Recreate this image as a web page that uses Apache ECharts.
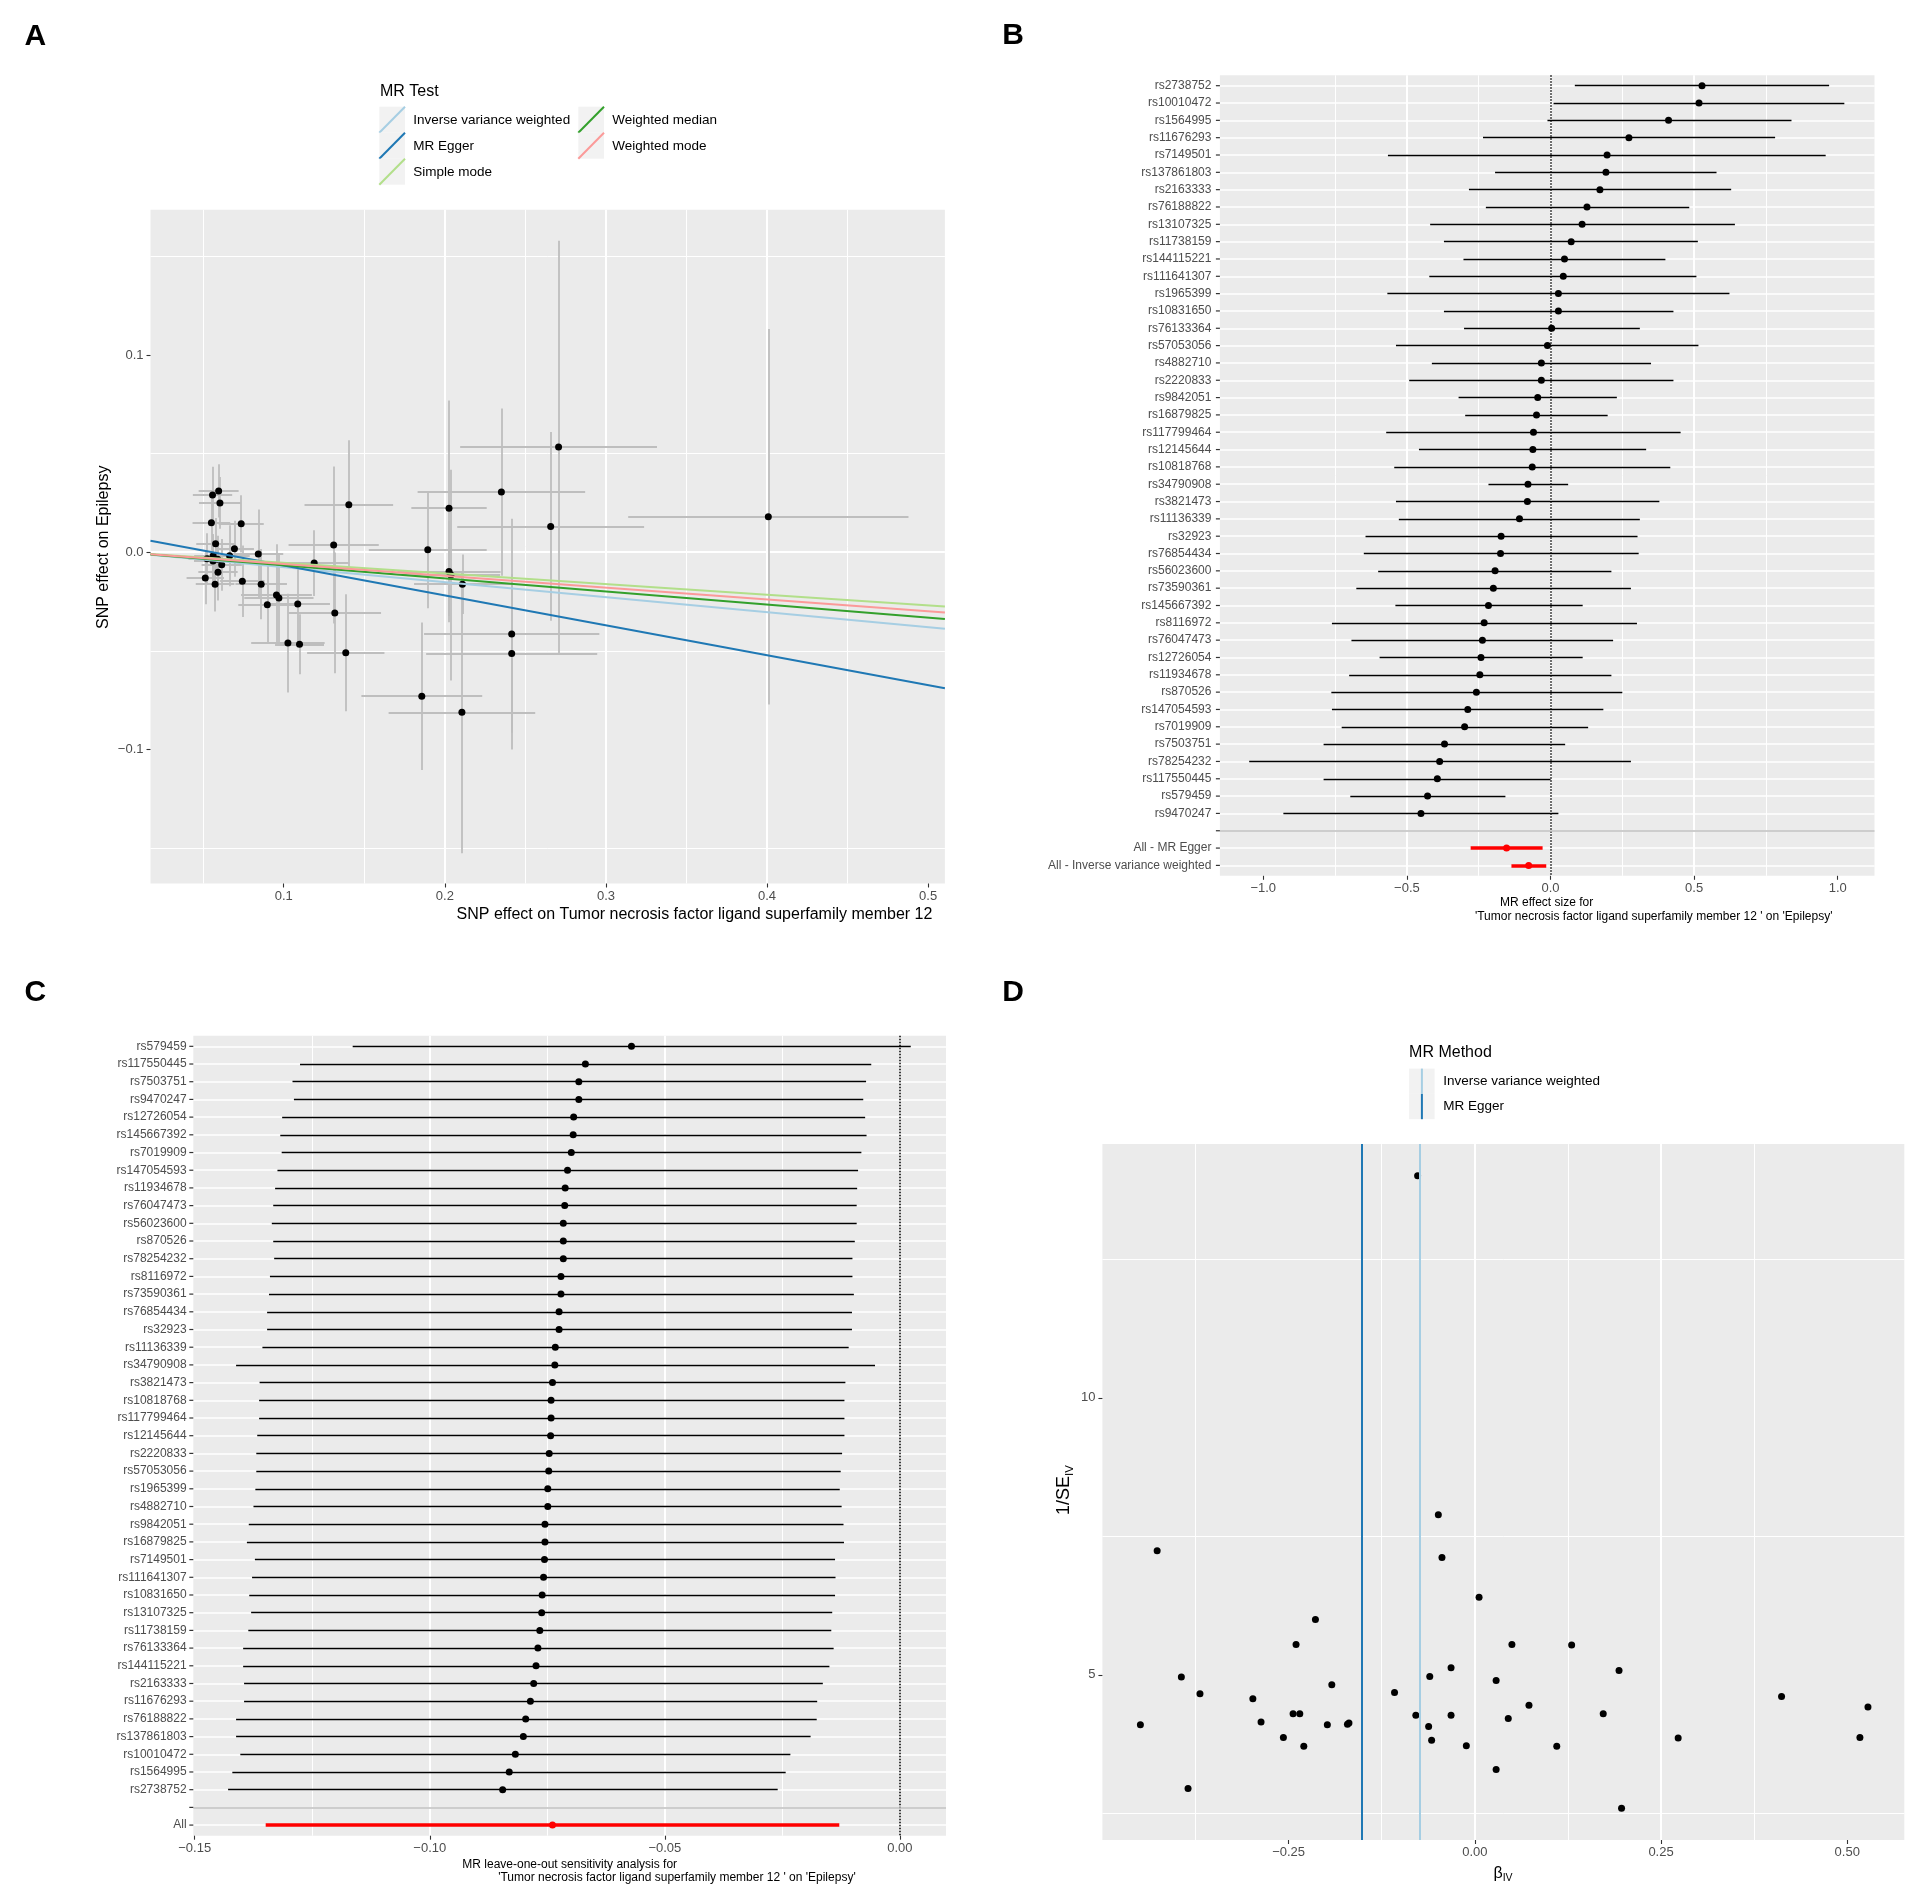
<!DOCTYPE html>
<html>
<head>
<meta charset="utf-8">
<title>MR analysis: TNFSF12 on Epilepsy</title>
<script src="https://cdn.jsdelivr.net/npm/echarts@6/dist/echarts.min.js"></script>
<style>
html,body{margin:0;padding:0;background:#ffffff;}
#chart{width:1908px;height:1888px;}
</style>
</head>
<body>
<div id="chart"></div>
<script>
// ================= DATA =================
// SNP order as in the single-SNP forest plot (B), top to bottom
const snpsB = ['rs2738752','rs10010472','rs1564995','rs11676293','rs7149501','rs137861803','rs2163333','rs76188822','rs13107325','rs11738159','rs144115221','rs111641307','rs1965399','rs10831650','rs76133364','rs57053056','rs4882710','rs2220833','rs9842051','rs16879825','rs117799464','rs12145644','rs10818768','rs34790908','rs3821473','rs11136339','rs32923','rs76854434','rs56023600','rs73590361','rs145667392','rs8116972','rs76047473','rs12726054','rs11934678','rs870526','rs147054593','rs7019909','rs7503751','rs78254232','rs117550445','rs579459','rs9470247'];

// Panel A: SNP effects on exposure (x) and outcome (y), with standard errors (same SNP order as snpsB)
const bxA  = [0.0596,0.0558,0.0604,0.0551,0.2706,0.0736,0.1404,0.2351,0.2026,0.0577,0.2657,0.4008,0.1310,0.0694,0.1894,0.0842,0.0562,0.0664,0.1189,0.2026,0.2038,0.0590,0.0524,0.2109,0.0561,0.0615,0.0592,0.2415,0.0860,0.0743,0.2415,0.0955,0.0970,0.1087,0.1317,0.0513,0.0574,0.0898,0.1385,0.2106,0.1857,0.1098,0.1026];
const byA  = [0.0311,0.0290,0.0250,0.0150,0.0534,0.0144,0.0241,0.0305,0.0223,0.0043,0.0131,0.0180,0.0037,0.0018,0.0012,-0.0009,-0.0018,-0.0018,-0.0055,-0.0098,-0.0116,-0.0036,-0.0033,-0.0162,-0.0045,-0.0064,-0.0101,-0.0415,-0.0162,-0.0147,-0.0513,-0.0217,-0.0232,-0.0263,-0.0308,-0.0131,-0.0162,-0.0266,-0.0510,-0.0812,-0.0730,-0.0467,-0.0461];
const sexA = [0.0124,0.0122,0.0130,0.0117,0.0611,0.0140,0.0275,0.0520,0.0234,0.0120,0.0580,0.0870,0.0280,0.0121,0.0366,0.0155,0.0118,0.0125,0.0220,0.0320,0.0305,0.0120,0.0115,0.0300,0.0118,0.0125,0.0122,0.0544,0.0160,0.0138,0.0531,0.0220,0.0215,0.0200,0.0287,0.0116,0.0120,0.0180,0.0240,0.0455,0.0375,0.0152,0.0228];
const seyA = [0.0135,0.0144,0.0131,0.0143,0.1045,0.0145,0.0327,0.0424,0.0546,0.0130,0.0479,0.0952,0.0398,0.0142,0.0296,0.0226,0.0110,0.0155,0.0167,0.0257,0.0534,0.0119,0.0129,0.0151,0.0131,0.0131,0.0144,0.0585,0.0178,0.0181,0.0403,0.0257,0.0226,0.0196,0.0306,0.0133,0.0138,0.0197,0.0297,0.0714,0.0374,0.0152,0.0250];
// MR method regression lines (slope, intercept)
const methodsA   = ['Inverse variance weighted','MR Egger','Simple mode','Weighted median','Weighted mode'];
const slopeA     = [-0.0760,-0.1517,-0.0539,-0.0664,-0.0598];
const interceptA = [0,0.0084,0,0,0];
const rangeAx = [0.0173, 0.5104];
const rangeAy = [-0.1680, 0.1737];
const ticksAx = [0.1,0.2,0.3,0.4,0.5],  labelsAx = ['0.1','0.2','0.3','0.4','0.5'];
const ticksAy = [-0.1,0,0.1],           labelsAy = ['\u22120.1','0.0','0.1'];

// Panel B: single-SNP Wald ratios with 95% CI
const estB = [0.5275,0.517,0.411,0.273,0.197,0.193,0.172,0.127,0.110,0.072,0.0487,0.0445,0.0275,0.0275,0.004,-0.0106,-0.0318,-0.0318,-0.0445,-0.0487,-0.0593,-0.0614,-0.0636,-0.0784,-0.0805,-0.108,-0.172,-0.174,-0.193,-0.199,-0.216,-0.231,-0.237,-0.242,-0.246,-0.258,-0.288,-0.299,-0.369,-0.386,-0.394,-0.428,-0.451];
const loB  = [0.0847,0.0106,-0.0106,-0.235,-0.566,-0.193,-0.284,-0.225,-0.419,-0.371,-0.303,-0.422,-0.568,-0.371,-0.301,-0.538,-0.413,-0.492,-0.320,-0.297,-0.572,-0.458,-0.544,-0.216,-0.538,-0.528,-0.644,-0.650,-0.600,-0.676,-0.540,-0.761,-0.693,-0.595,-0.701,-0.763,-0.761,-0.727,-0.790,-1.049,-0.790,-0.697,-0.930];
const hiB  = [0.970,1.023,0.839,0.782,0.958,0.578,0.629,0.483,0.642,0.513,0.400,0.508,0.623,0.428,0.311,0.515,0.350,0.428,0.231,0.199,0.453,0.333,0.417,0.0614,0.379,0.311,0.303,0.307,0.212,0.280,0.112,0.301,0.218,0.112,0.212,0.250,0.184,0.131,0.051,0.280,0.0,-0.157,0.0275];
const sumB    = ['All - MR Egger','All - Inverse variance weighted'];
const sumEstB = [-0.153,-0.076];
const sumLoB  = [-0.278,-0.136];
const sumHiB  = [-0.0275,-0.0148];
const rangeBx = [-1.151, 1.128];
const ticksBx = [-1,-0.5,0,0.5,1], labelsBx = ['\u22121.0','\u22120.5','0.0','0.5','1.0'];

// Panel C: leave-one-out IVW estimates with 95% CI (top to bottom)
const snpsC = ['rs579459','rs117550445','rs7503751','rs9470247','rs12726054','rs145667392','rs7019909','rs147054593','rs11934678','rs76047473','rs56023600','rs870526','rs78254232','rs8116972','rs73590361','rs76854434','rs32923','rs11136339','rs34790908','rs3821473','rs10818768','rs117799464','rs12145644','rs2220833','rs57053056','rs1965399','rs4882710','rs9842051','rs16879825','rs7149501','rs111641307','rs10831650','rs13107325','rs11738159','rs76133364','rs144115221','rs2163333','rs11676293','rs76188822','rs137861803','rs10010472','rs1564995','rs2738752'];
const estC = [-0.0571,-0.0669,-0.0683,-0.0683,-0.0694,-0.0695,-0.0699,-0.0707,-0.0712,-0.0713,-0.0716,-0.0716,-0.0716,-0.0721,-0.0721,-0.0725,-0.0725,-0.0733,-0.0734,-0.0739,-0.0742,-0.0742,-0.0743,-0.0746,-0.0747,-0.0749,-0.0749,-0.0755,-0.0755,-0.0756,-0.0758,-0.0761,-0.0762,-0.0766,-0.0770,-0.0774,-0.0779,-0.0786,-0.0796,-0.0801,-0.0818,-0.0831,-0.0845];
const loC  = [-0.1164,-0.1276,-0.1292,-0.1289,-0.1314,-0.1318,-0.1315,-0.1324,-0.1329,-0.1333,-0.1336,-0.1333,-0.1331,-0.1340,-0.1342,-0.1346,-0.1346,-0.1356,-0.1412,-0.1362,-0.1363,-0.1363,-0.1367,-0.1369,-0.1369,-0.1371,-0.1375,-0.1385,-0.1389,-0.1372,-0.1378,-0.1384,-0.1380,-0.1386,-0.1397,-0.1397,-0.1395,-0.1395,-0.1412,-0.1412,-0.1403,-0.1420,-0.1429];
const hiC  = [0.0023,-0.0061,-0.0072,-0.0078,-0.0074,-0.0071,-0.0082,-0.0089,-0.0091,-0.0092,-0.0092,-0.0096,-0.0101,-0.0101,-0.0098,-0.0102,-0.0102,-0.0109,-0.0053,-0.0116,-0.0118,-0.0118,-0.0118,-0.0123,-0.0126,-0.0128,-0.0124,-0.0120,-0.0119,-0.0138,-0.0137,-0.0138,-0.0144,-0.0146,-0.0141,-0.0150,-0.0164,-0.0176,-0.0177,-0.0190,-0.0233,-0.0243,-0.0260];
const allC = ['All'];
const allEstC = [-0.0739], allLoC = [-0.1349], allHiC = [-0.0129];
const rangeCx = [-0.1503, 0.0098];
const ticksCx = [-0.15,-0.10,-0.05,0], labelsCx = ['\u22120.15','\u22120.10','\u22120.05','0.00'];

// Panel D: funnel plot (beta_IV, 1/SE_IV), same SNP order as snpsB
const betaD  = [0.5278,0.517,0.4118,0.273,0.197,0.1936,0.1724,0.130,0.110,0.0727,0.0498,0.0449,0.0286,0.0286,0.0057,-0.0114,-0.0319,-0.0319,-0.0441,-0.049,-0.058,-0.0605,-0.062,-0.0768,-0.0792,-0.1078,-0.171,-0.169,-0.192,-0.198,-0.214,-0.2296,-0.235,-0.240,-0.244,-0.257,-0.287,-0.298,-0.369,-0.385,-0.394,-0.4265,-0.449];
const invseD = [4.42,3.87,4.61,3.86,2.59,5.08,4.30,5.54,3.71,4.45,5.55,4.21,3.29,4.90,6.40,3.72,5.13,4.27,7.12,7.89,3.82,4.97,4.07,14.01,4.27,4.68,4.11,4.13,4.82,4.10,6.0,3.71,4.30,5.55,4.30,3.87,4.15,4.57,4.66,2.95,4.96,7.24,4.10];
const methodsD = ['Inverse variance weighted','MR Egger'];
const methodBetaD = [-0.0744,-0.152];
const rangeDx = [-0.5, 0.5766];
const rangeDy = [2.019, 14.581];
const ticksDx = [-0.25,0,0.25,0.5], labelsDx = ['\u22120.25','0.00','0.25','0.50'];
const ticksDy = [5,10], labelsDy = ['5','10'];

// ================= STYLE =================
const FONT = '"Liberation Sans", Arial, Helvetica, sans-serif';
const COL = {bg:'#EBEBEB', line:'#FFFFFF', tick:'#333333', label:'#4D4D4D', err:'#BEBEBE', pt:'#000000', sum:'#FF0000', sep:'#BEBEBE', key:'#F2F2F2'};
const METHOD_COLOR = {'Inverse variance weighted':'#A6CEE3','MR Egger':'#1F78B4','Simple mode':'#B2DF8A','Weighted median':'#33A02C','Weighted mode':'#FB9A99'};

function lab(ticks, labels) {
  return function (v) {
    for (let i = 0; i < ticks.length; i++) if (Math.abs(v - ticks[i]) < 1e-7) return labels[i];
    return '';
  };
}
function valAxis(gi, range, ticks, labels, extra) {
  return Object.assign({
    type: 'value', gridIndex: gi, min: range[0], max: range[1], scale: true,
    axisLine: {show: false, onZero: false},
    axisTick: {show: true, length: 4, customValues: ticks, lineStyle: {color: COL.tick, width: 1.1}},
    axisLabel: {formatter: lab(ticks, labels), customValues: ticks, color: COL.label, fontSize: 13, fontFamily: FONT, margin: 6},
    splitLine: {show: true, showMinLine: false, showMaxLine: false, lineStyle: {color: COL.line, width: 2}},
    minorTick: {show: false, splitNumber: 2},
    minorSplitLine: {show: true, lineStyle: {color: COL.line, width: 1}}
  }, extra || {});
}
// row axis for forest plots: rows are indices 0..n-1 (top to bottom), 0.6-row padding like ggplot
function rowAxis(gi, nRows) {
  return {
    type: 'value', gridIndex: gi, min: -0.6, max: nRows - 0.4, inverse: true, scale: true,
    axisLine: {show: false, onZero: false}, axisTick: {show: false}, axisLabel: {show: false},
    splitLine: {show: false}, minorSplitLine: {show: false}
  };
}
function linesSeries(gi, data, style, z) {
  return {type: 'lines', coordinateSystem: 'cartesian2d', xAxisIndex: gi, yAxisIndex: gi, polyline: false,
    silent: true, z: z, effect: {show: false}, symbol: ['none', 'none'],
    lineStyle: Object.assign({opacity: 1, curveness: 0}, style), data: data};
}
function points(gi, data, color, z) {
  return {type: 'scatter', xAxisIndex: gi, yAxisIndex: gi, z: z, silent: true, symbolSize: 7,
    itemStyle: {color: color, opacity: 1}, data: data};
}
function rowLabels(gi, cats, xmin, dist) {
  return {type: 'scatter', xAxisIndex: gi, yAxisIndex: gi, z: 6, silent: true, clip: false,
    symbol: 'rect', symbolSize: [4, 1.2], symbolOffset: [-2, 0], itemStyle: {color: COL.tick, opacity: 1},
    label: {show: true, position: 'left', distance: dist, formatter: '{b}', color: COL.label, fontSize: 12, fontFamily: FONT},
    data: cats.map((c, i) => ({name: c, value: [xmin, i]}))};
}
function txt(text, x, y, size, o) {
  return Object.assign({type: 'text', x: x, y: y, silent: true,
    style: Object.assign({text: text, fill: '#000000', fontSize: size, fontFamily: FONT,
      textAlign: 'left', align: 'left', textVerticalAlign: 'middle', verticalAlign: 'middle'}, (o && o.style) || {})},
    (o && o.el) || {});
}
function rect(x, y, w, h, fill) {
  return {type: 'rect', z: -10, silent: true, shape: {x: x, y: y, width: w, height: h}, style: {fill: fill}};
}

// ================= BUILD =================
const catsB = snpsB.concat([''], sumB);
const catsC = snpsC.concat([''], allC);
const nB = snpsB.length, nC = snpsC.length;
const rowsBy = [-0.6, catsB.length - 0.4];
const rowsCy = [-0.6, catsC.length - 0.4];

const series = [];
// ---- A ----
const errA = [];
bxA.forEach(function (x, i) {
  errA.push({coords: [[x - sexA[i], byA[i]], [x + sexA[i], byA[i]]]});
  errA.push({coords: [[x, byA[i] - seyA[i]], [x, byA[i] + seyA[i]]]});
});
series.push(linesSeries(0, errA, {color: COL.err, width: 1.8}, 2));
series.push(points(0, bxA.map((x, i) => [x, byA[i]]), COL.pt, 3));
series.push(linesSeries(0, methodsA.map(function (m, k) {
  return {coords: [[rangeAx[0], interceptA[k] + slopeA[k] * rangeAx[0]], [rangeAx[1], interceptA[k] + slopeA[k] * rangeAx[1]]],
    lineStyle: {color: METHOD_COLOR[m], width: 2}};
}), {color: '#000', width: 2}, 4));

// ---- B ----
series.push(linesSeries(1, catsB.map((c, i) => ({coords: [[rangeBx[0], i], [rangeBx[1], i]]})), {color: COL.line, width: 1.6}, 1));
series.push(linesSeries(1, [{coords: [[0, rowsBy[0]], [0, rowsBy[1]]]}], {color: '#000000', width: 1.5, type: 'dotted'}, 2));
series.push(linesSeries(1, snpsB.map((s, i) => ({coords: [[loB[i], i], [hiB[i], i]]})), {color: COL.pt, width: 1.3}, 3));
series.push(linesSeries(1, sumB.map((s, j) => ({coords: [[sumLoB[j], nB + 1 + j], [sumHiB[j], nB + 1 + j]]})), {color: COL.sum, width: 3.5}, 3));
series.push(points(1, estB.map((v, i) => [v, i]), COL.pt, 4));
series.push(points(1, sumEstB.map((v, j) => [v, nB + 1 + j]), COL.sum, 4));
series.push(linesSeries(1, [{coords: [[rangeBx[0], nB], [rangeBx[1], nB]]}], {color: COL.sep, width: 1.6}, 5));
series.push(rowLabels(1, catsB, rangeBx[0], 4.5));

// ---- C ----
series.push(linesSeries(2, catsC.map((c, i) => ({coords: [[rangeCx[0], i], [rangeCx[1], i]]})), {color: COL.line, width: 1.6}, 1));
series.push(linesSeries(2, [{coords: [[0, rowsCy[0]], [0, rowsCy[1]]]}], {color: '#000000', width: 1.5, type: 'dotted'}, 2));
series.push(linesSeries(2, snpsC.map((s, i) => ({coords: [[loC[i], i], [hiC[i], i]]})), {color: COL.pt, width: 1.3}, 3));
series.push(linesSeries(2, allC.map((s, j) => ({coords: [[allLoC[j], nC + 1 + j], [allHiC[j], nC + 1 + j]]})), {color: COL.sum, width: 3.5}, 3));
series.push(points(2, estC.map((v, i) => [v, i]), COL.pt, 4));
series.push(points(2, allEstC.map((v, j) => [v, nC + 1 + j]), COL.sum, 4));
series.push(linesSeries(2, [{coords: [[rangeCx[0], nC], [rangeCx[1], nC]]}], {color: COL.sep, width: 1.6}, 5));
series.push(rowLabels(2, catsC, rangeCx[0], 2.7));

// ---- D ----
series.push(points(3, betaD.map((b, i) => [b, invseD[i]]), COL.pt, 3));
series.push(linesSeries(3, methodsD.map(function (m, k) {
  return {coords: [[methodBetaD[k], rangeDy[0]], [methodBetaD[k], rangeDy[1]]], lineStyle: {color: METHOD_COLOR[m], width: 2}};
}), {color: '#000', width: 2}, 4));

// ---- graphics: panel backgrounds, letters, titles, legends ----
const g = [];
g.push(rect(150.5, 209.7, 794.4, 673.8, COL.bg));
g.push(rect(1219.9, 75.3, 654.6, 800.5, COL.bg));
g.push(rect(193.3, 1035.7, 752.7, 800.0, COL.bg));
g.push(rect(1102.4, 1144.1, 801.9, 695.9, COL.bg));
['A', 'B', 'C', 'D'].forEach(function (L, i) {
  const pos = [[35.3, 36.5], [1013, 35.3], [35.3, 992.6], [1013, 992.6]][i];
  g.push(txt(L, pos[0], pos[1], 30, {style: {fontWeight: 'bold', textAlign: 'center', align: 'center'}}));
});
// A titles
g.push(txt('SNP effect on Tumor necrosis factor ligand superfamily member 12', 694.5, 914.5, 16, {style: {textAlign: 'center', align: 'center'}}));
g.push(txt('SNP effect on Epilepsy', 103.4, 547.3, 16, {style: {textAlign: 'center', align: 'center'}, el: {rotation: Math.PI / 2}}));
// B titles
g.push(txt('MR effect size for', 1546.6, 903, 12, {style: {textAlign: 'center', align: 'center'}}));
g.push(txt("'Tumor necrosis factor ligand superfamily member 12 ' on 'Epilepsy'", 1653.7, 916.9, 12, {style: {textAlign: 'center', align: 'center'}}));
// C titles
g.push(txt('MR leave-one-out sensitivity analysis for', 569.7, 1865, 12, {style: {textAlign: 'center', align: 'center'}}));
g.push(txt("'Tumor necrosis factor ligand superfamily member 12 ' on 'Epilepsy'", 676.9, 1877.7, 12, {style: {textAlign: 'center', align: 'center'}}));
// D titles with subscripts
const richSub = function (big, small) {
  return {a: {fontSize: big, fontFamily: FONT, fill: '#000000', lineHeight: big + 4, verticalAlign: 'middle'},
          b: {fontSize: small, fontFamily: FONT, fill: '#000000', lineHeight: small + 0.5, verticalAlign: 'bottom'}};
};
g.push({type: 'text', x: 1503, y: 1873.3, silent: true,
  style: {text: '{a|\u03B2}{b|IV}', rich: richSub(16, 10.5), textAlign: 'center', align: 'center', textVerticalAlign: 'middle', verticalAlign: 'middle'}});
g.push({type: 'text', x: 1064.5, y: 1490, rotation: Math.PI / 2, silent: true,
  style: {text: '{a|1/SE}{b|IV}', rich: richSub(18, 11.5), textAlign: 'center', align: 'center', textVerticalAlign: 'middle', verticalAlign: 'middle'}});
// A legend
g.push(txt('MR Test', 380, 91.7, 16));
methodsA.forEach(function (m, k) {
  const col = k < 3 ? 0 : 1, row = k < 3 ? k : k - 3;
  const kx = col === 0 ? 379.3 : 578.3, ky = 106.7 + row * 26;
  g.push({type: 'rect', silent: true, shape: {x: kx, y: ky, width: 25.7, height: 26}, style: {fill: COL.key}});
  g.push({type: 'line', silent: true, shape: {x1: kx, y1: ky + 26, x2: kx + 25.7, y2: ky}, style: {stroke: METHOD_COLOR[m], lineWidth: 2}});
  g.push(txt(m, kx + 34, ky + 14, 13.5));
});
// D legend
g.push(txt('MR Method', 1409.1, 1052.4, 16));
methodsD.forEach(function (m, k) {
  const ky = 1068.6 + k * 25.3;
  g.push({type: 'rect', silent: true, shape: {x: 1409.1, y: ky, width: 25.5, height: 25.3}, style: {fill: COL.key}});
  g.push({type: 'line', silent: true, shape: {x1: 1421.9, y1: ky, x2: 1421.9, y2: ky + 25.3}, style: {stroke: METHOD_COLOR[m], lineWidth: 2}});
  g.push(txt(m, 1443.2, ky + 12.8, 13.5));
});

const gridBase = {containLabel: false, outerBoundsMode: 'none', show: false};
const option = {
  animation: false,
  backgroundColor: '#FFFFFF',
  textStyle: {fontFamily: FONT},
  grid: [
    Object.assign({left: 150.5, top: 209.7, width: 794.4, height: 673.8}, gridBase),
    Object.assign({left: 1219.9, top: 75.3, width: 654.6, height: 800.5}, gridBase),
    Object.assign({left: 193.3, top: 1035.7, width: 752.7, height: 800.0}, gridBase),
    Object.assign({left: 1102.4, top: 1144.1, width: 801.9, height: 695.9}, gridBase)
  ],
  xAxis: [
    valAxis(0, rangeAx, ticksAx, labelsAx, {splitNumber: 5}),
    valAxis(1, rangeBx, ticksBx, labelsBx, {splitNumber: 5}),
    valAxis(2, rangeCx, ticksCx, labelsCx, {splitNumber: 3}),
    valAxis(3, rangeDx, ticksDx, labelsDx, {interval: 0.25})
  ],
  yAxis: [
    (function () { const a = valAxis(0, rangeAy, ticksAy, labelsAy, {splitNumber: 3}); a.axisLabel.margin = 7; return a; })(),
    rowAxis(1, catsB.length),
    rowAxis(2, catsC.length),
    (function () { const a = valAxis(3, rangeDy, ticksDy, labelsDy, {splitNumber: 3}); a.axisLabel.margin = 7; return a; })()
  ],
  series: series,
  graphic: {elements: g}
};

const chart = echarts.init(document.getElementById('chart'), null, {renderer: 'canvas', width: 1908, height: 1888});
chart.setOption(option);
</script>
</body>
</html>
